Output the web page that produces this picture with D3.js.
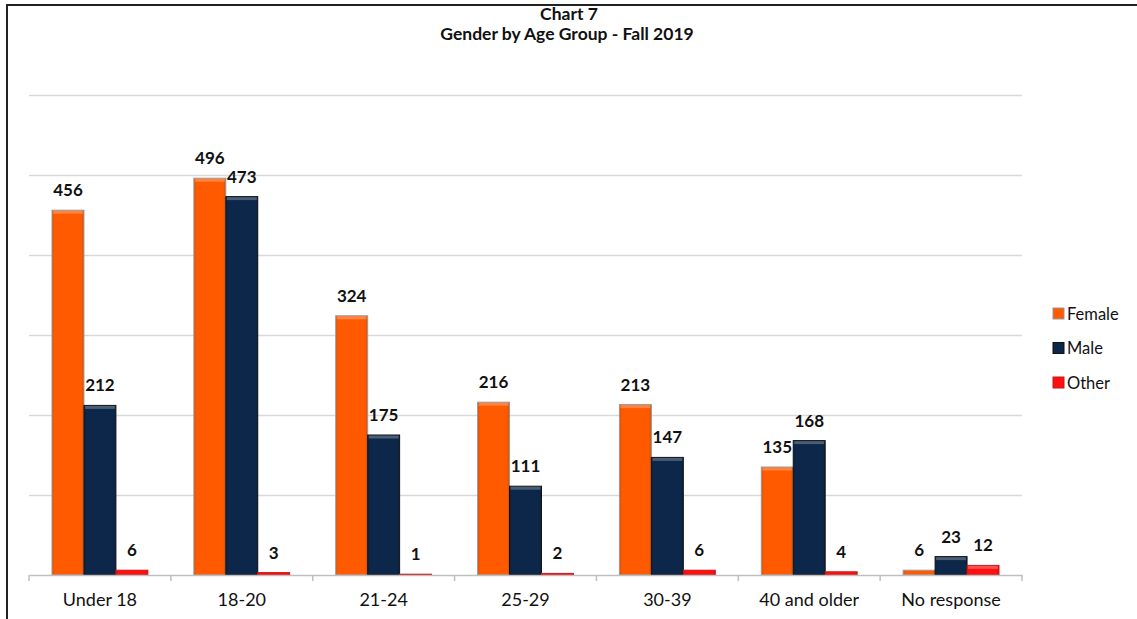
<!DOCTYPE html>
<html>
<head>
<meta charset="utf-8">
<script src="https://cdn.jsdelivr.net/npm/d3@7"></script>
<style>
  body { margin: 0; background: #fff; }
  svg { display: block; font-family: Lato, "Open Sans", sans-serif; }
</style>
</head>
<body>
<script>
const categories = ["Under 18", "18-20", "21-24", "25-29", "30-39", "40 and older", "No response"];
const seriesNames = ["Female", "Male", "Other"];
const female = [456, 496, 324, 216, 213, 135, 6];
const male = [212, 473, 175, 111, 147, 168, 23];
const other = [6, 3, 1, 2, 6, 4, 12];
const gridValues = [100, 200, 300, 400, 500, 600];

const colors = { Female: "#ff5a00", Male: "#0c2749", Other: "#ff1010" };
const edges = { Female: "#9a9a9a", Male: "#111", Other: "#c81818" };

const w = 1137;
const h = 619;
const x0 = 29, x1 = 1022, y0 = 575, yTop = 95;

const svg = d3.select("body").append("svg").attr("width", w).attr("height", h);

// frame (only left and top edges show)
svg.append("rect")
  .attr("x", 7).attr("y", 5)
  .attr("width", w + 20).attr("height", h + 20)
  .attr("fill", "none").attr("stroke", "#222").attr("stroke-width", 2);

const defs = svg.append("defs");
seriesNames.forEach(s => {
  const g = defs.append("linearGradient").attr("id", "g-" + s).attr("x1", 0).attr("x2", 1).attr("y1", 0).attr("y2", 0);
  const c = d3.color(colors[s]);
  g.append("stop").attr("offset", "0%").attr("stop-color", c.darker(0.4));
  g.append("stop").attr("offset", "8%").attr("stop-color", c);
  g.append("stop").attr("offset", "92%").attr("stop-color", c);
  g.append("stop").attr("offset", "100%").attr("stop-color", c.darker(0.5));
});

const x = d3.scaleBand().domain(categories).range([x0, x1]).paddingInner(0).paddingOuter(0);
const xs = d3.scaleBand().domain(seriesNames).range([0, x.bandwidth()]).paddingInner(0).paddingOuter(0.72);
const y = d3.scaleLinear().domain([0, 600]).range([y0, yTop]);

// gridlines
svg.append("g").selectAll("line").data(gridValues).enter().append("line")
  .attr("x1", x0).attr("x2", x1)
  .attr("y1", d => y(d) + 0.5).attr("y2", d => y(d) + 0.5)
  .attr("stroke", "#d9d9d9").attr("stroke-width", 1.5);

// title
svg.append("text").attr("x", 569).attr("y", 20).attr("text-anchor", "middle")
  .attr("font-weight", "bold").attr("font-size", 17.5).attr("fill", "#111").text("Chart 7");
svg.append("text").attr("x", 567).attr("y", 40).attr("text-anchor", "middle")
  .attr("font-weight", "bold").attr("font-size", 17.5).attr("fill", "#111").text("Gender by Age Group - Fall 2019");

const rows = categories.map((c, i) => ({ cat: c, vals: { Female: female[i], Male: male[i], Other: other[i] } }));

const groups = svg.append("g").selectAll("g").data(rows).enter().append("g")
  .attr("transform", d => `translate(${x(d.cat)},0)`);

const bars = groups.selectAll("g").data(d => seriesNames.map(s => ({ s, v: d.vals[s] }))).enter().append("g");
bars.append("rect")
  .attr("x", d => xs(d.s))
  .attr("width", xs.bandwidth())
  .attr("y", d => y(d.v))
  .attr("height", d => y0 - y(d.v))
  .attr("fill", d => `url(#g-${d.s})`)
  .attr("stroke", d => edges[d.s])
  .attr("stroke-width", 1);
// light bevel on top edge
bars.filter(d => y0 - y(d.v) > 6).append("rect")
  .attr("x", d => xs(d.s) + 1)
  .attr("width", xs.bandwidth() - 2)
  .attr("y", d => y(d.v) + 0.5)
  .attr("height", 3)
  .attr("fill", "#fff").attr("opacity", 0.25);

groups.selectAll("text").data(d => seriesNames.map(s => ({ s, v: d.vals[s] }))).enter().append("text")
  .attr("x", d => xs(d.s) + xs.bandwidth() / 2)
  .attr("y", d => y(d.v) - 14)
  .attr("text-anchor", "middle")
  .attr("font-weight", "bold").attr("font-size", 17).attr("fill", "#111")
  .text(d => d.v);

// x axis
const axis = svg.append("g").attr("transform", `translate(0,${y0})`)
  .call(d3.axisBottom(x).tickSize(0).tickPadding(18));
axis.select(".domain").attr("stroke", "#bfbfbf").attr("stroke-width", 1.5);
axis.selectAll("text").attr("font-size", 18).attr("fill", "#111").attr("font-family", "Lato, sans-serif");
axis.selectAll(".sep").data(d3.range(categories.length + 1)).enter().append("line")
  .attr("class", "sep")
  .attr("x1", i => x0 + i * x.step()).attr("x2", i => x0 + i * x.step())
  .attr("y1", 0).attr("y2", 6)
  .attr("stroke", "#bfbfbf").attr("stroke-width", 1.5);

// legend
const legend = svg.append("g").attr("transform", "translate(1053,308)");
const li = legend.selectAll("g").data(seriesNames).enter().append("g")
  .attr("transform", (d, i) => `translate(0,${i * 34.5})`);
li.append("rect").attr("width", 11).attr("height", 11)
  .attr("fill", d => `url(#g-${d})`).attr("stroke", d => edges[d]);
li.append("text").attr("x", 14).attr("y", 11.5).attr("font-size", 16.5).attr("fill", "#111").text(d => d);
</script>
</body>
</html>
